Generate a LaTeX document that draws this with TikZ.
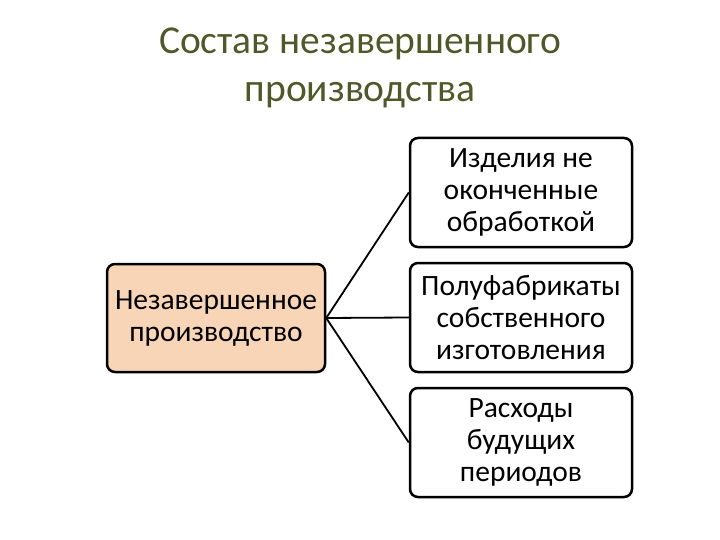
\documentclass[tikz,border=0pt]{standalone}
\usepackage{fontspec}
\setmainfont{Carlito}
\definecolor{titlecol}{RGB}{79,88,40}
\definecolor{peach}{RGB}{249,213,184}
\tikzset{
  boxa/.style={draw=black, line width=2.5pt, rounded corners=8pt, minimum width=#1, align=center, inner sep=0pt, font=\fontsize{29.5}{32}\selectfont},
  conn/.style={line width=1.8pt}
}
\begin{document}
\begin{tikzpicture}[x=1pt,y=-1pt]
\useasboundingbox (0,0) rectangle (720,540);
\node[font=\fontsize{39.5}{48}\selectfont, text=titlecol, align=center] (title) at (360,68) {Состав незавершенного\\производства};
\node[boxa=218pt, minimum height=108pt, fill=peach] (main) at (216,318) {Незавершенное\\производство};
\node[boxa=222pt, minimum height=109pt, fill=white] (b1) at (521,192.5) {Изделия не\\оконченные\\обработкой};
\node[boxa=222pt, minimum height=109pt, fill=white] (b2) at (521,317.5) {Полуфабрикаты\\собственного\\изготовления};
\node[boxa=222pt, minimum height=109pt, fill=white] (b3) at (521,442.5) {Расходы\\будущих\\периодов};
\draw[conn] (main.east) -- (b1.west);
\draw[conn] (main.east) -- (b2.west);
\draw[conn] (main.east) -- (b3.west);
\end{tikzpicture}
\end{document}
